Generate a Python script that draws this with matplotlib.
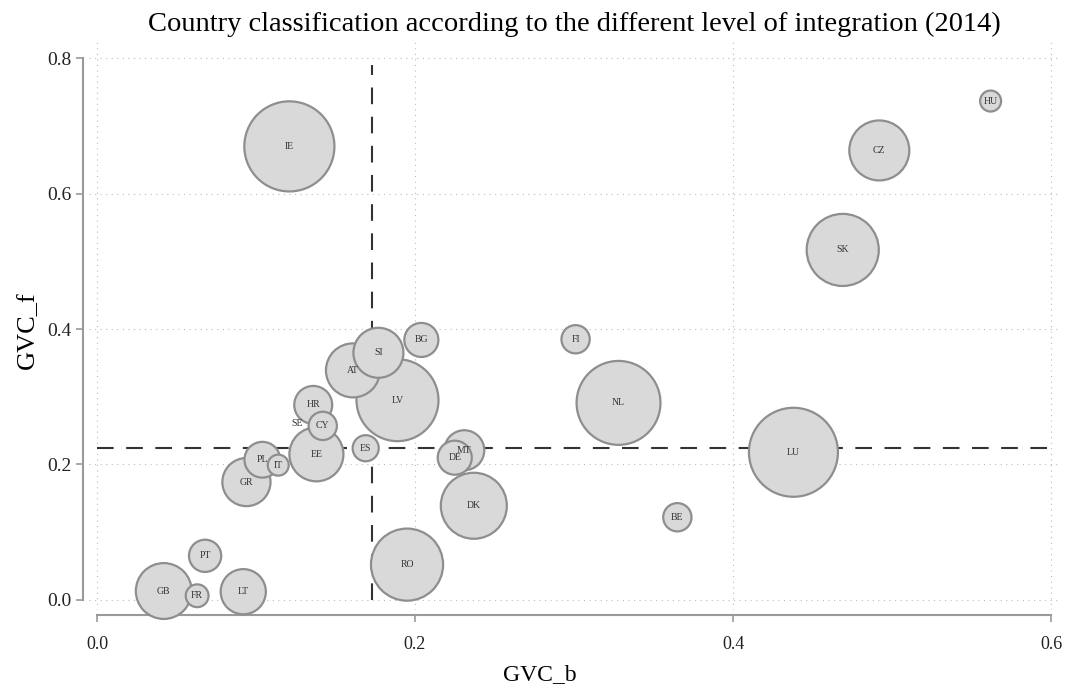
import matplotlib.pyplot as plt
import numpy as np

# country codes, backward / forward GVC participation, bubble weight
countries = ['IE', 'HU', 'CZ', 'SK', 'FI', 'NL', 'LU', 'BE', 'BG', 'SI',
             'AT', 'LV', 'HR', 'SE', 'CY', 'EE', 'ES', 'PL', 'IT', 'GR',
             'MT', 'DE', 'DK', 'RO', 'PT', 'GB', 'FR', 'LT']
gvc_b = [0.121, 0.562, 0.492, 0.469, 0.301, 0.328, 0.438, 0.365, 0.204, 0.177,
         0.161, 0.189, 0.136, 0.126, 0.142, 0.138, 0.169, 0.104, 0.114, 0.094,
         0.231, 0.225, 0.237, 0.195, 0.068, 0.042, 0.063, 0.092]
gvc_f = [0.670, 0.737, 0.664, 0.517, 0.385, 0.291, 0.218, 0.122, 0.384, 0.365,
         0.339, 0.295, 0.288, 0.260, 0.257, 0.215, 0.224, 0.207, 0.199, 0.174,
         0.221, 0.210, 0.139, 0.052, 0.065, 0.013, 0.006, 0.012]
weight = [20.3, 1.1, 9.0, 13.0, 2.0, 17.6, 19.8, 2.0, 2.9, 6.25,
          7.3, 16.8, 3.6, 0.0, 2.0, 7.3, 1.7, 3.2, 1.1, 5.8,
          4.0, 2.9, 10.9, 13.0, 2.6, 7.8, 1.3, 5.1]

# reference lines (averages)
mean_b = 0.173
mean_f = 0.224

xticks = [0.0, 0.2, 0.4, 0.6]
yticks = [0.0, 0.2, 0.4, 0.6, 0.8]

plt.rcParams['font.family'] = ['Liberation Serif', 'DejaVu Serif']

fig = plt.figure(figsize=(10.7, 6.89), dpi=100)
ax = fig.add_axes([0.0832, 0.1147, 0.9065, 0.830])

# big bubbles first so the small ones stay visible
order = np.argsort(weight)[::-1]
b = np.array(gvc_b)[order]
f = np.array(gvc_f)[order]
w = np.array(weight)[order]
px = 72 / 100
r = 10 * np.sqrt(w)
s = (2 * r * px) ** 2
ax.scatter(b, f, s=s, facecolor='#d9d9d9', edgecolor='#8e8e8e',
           linewidth=1.6, zorder=3, clip_on=False)
for c, x, y in zip(countries, gvc_b, gvc_f):
    ax.text(x, y, c, fontsize=7, ha='center', va='center', color='#333333', zorder=4)

ax.plot([mean_b, mean_b], [0, 0.79], color='#333333', lw=1.5, dashes=(8, 6), zorder=2)
ax.plot([0, 0.6], [mean_f, mean_f], color='#333333', lw=1.5, dashes=(8, 6), zorder=2)

ax.set_xlim(-0.005, 0.605)
ax.set_ylim(-0.015, 0.83)
ax.set_xticks(xticks)
ax.set_yticks(yticks)
ax.set_xticklabels([f'{t:.1f}' for t in xticks])
ax.set_yticklabels([f'{t:.1f}' for t in yticks], family='Liberation Sans')
ax.grid(True, color='#bbbbbb', linestyle=(0, (1, 4)), lw=0.8, zorder=0)

for side in ['top', 'right']:
    ax.spines[side].set_visible(False)
ax.spines['left'].set_position(('outward', 4.3))
ax.spines['bottom'].set_position(('outward', 3.6))
ax.spines['left'].set_bounds(0, 0.8)
ax.spines['bottom'].set_bounds(0, 0.6)
for side in ['left', 'bottom']:
    ax.spines[side].set_color('#9a9a9a')
    ax.spines[side].set_linewidth(1.5)
ax.tick_params(colors='#9a9a9a', length=5, width=1.2, labelsize=13, labelcolor='#222222')
ax.tick_params(axis='y', labelsize=14)
ax.tick_params(axis='x', pad=10)

ax.set_title('Country classification according to the different level of integration (2014)',
             fontsize=20.5, pad=5)
ax.set_xlabel('GVC_b', fontsize=17)
ax.set_ylabel('GVC_f', fontsize=19)
ax.xaxis.set_label_coords(0.465, -0.095)
ax.yaxis.set_label_coords(-0.052, 0.49)

fig.savefig('out.png', dpi=100)
